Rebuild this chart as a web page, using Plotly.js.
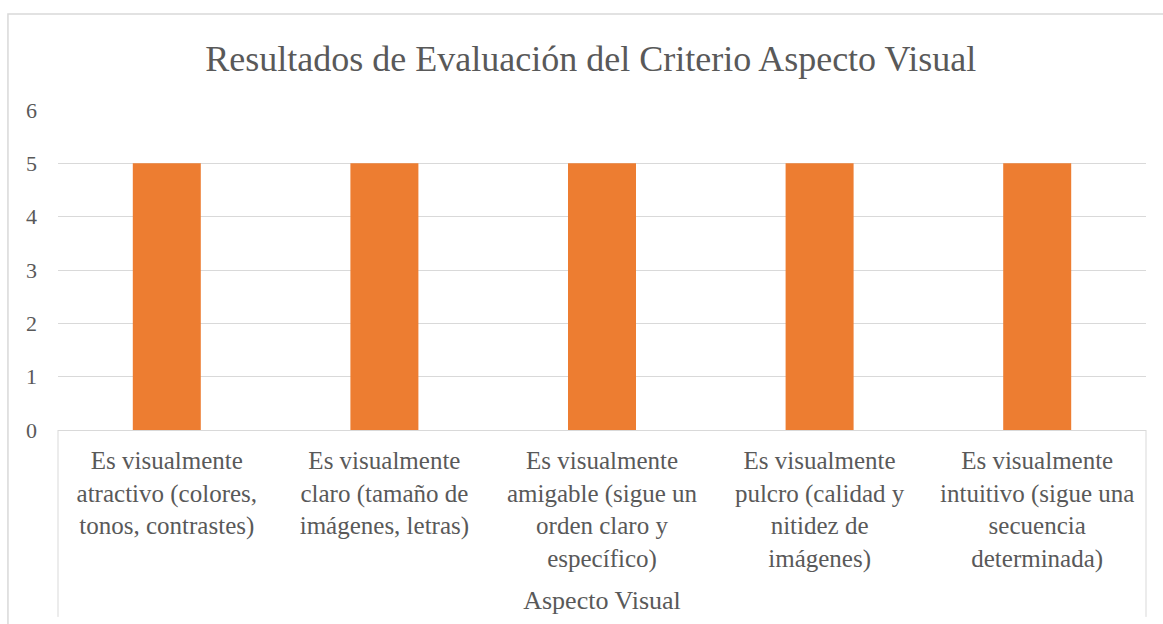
<!DOCTYPE html>
<html>
<head>
<meta charset="utf-8">
<script src="https://cdn.plot.ly/plotly-3.0.1.min.js"></script>
<style>
html,body{margin:0;padding:0;background:#fff;}
</style>
</head>
<body>
<div id="chart"></div>
<script>
const categories = [
  "Es visualmente atractivo (colores, tonos, contrastes)",
  "Es visualmente claro (tamaño de imágenes, letras)",
  "Es visualmente amigable (sigue un orden claro y específico)",
  "Es visualmente pulcro (calidad y nitidez de imágenes)",
  "Es visualmente intuitivo (sigue una secuencia determinada)"
];
const tickLabels = [
  "Es visualmente<br>atractivo (colores,<br>tonos, contrastes)",
  "Es visualmente<br>claro (tamaño de<br>imágenes, letras)",
  "Es visualmente<br>amigable (sigue un<br>orden claro y<br>específico)",
  "Es visualmente<br>pulcro (calidad y<br>nitidez de<br>imágenes)",
  "Es visualmente<br>intuitivo (sigue una<br>secuencia<br>determinada)"
];
const values = [5, 5, 5, 5, 5];
const yTicks = [0, 1, 2, 3, 4, 5, 6];

const FONT = "Times New Roman";
const TXT = "#595959";
const GRID = "#D9D9D9";

const traces = [{
  type: "bar",
  x: categories,
  y: values,
  marker: {color: "#ED7D31"}
}];

const chartLayout = {
  width: 1163,
  height: 624,
  margin: {l: 58, r: 17, t: 110, b: 194, pad: 0},
  paper_bgcolor: "#ffffff",
  plot_bgcolor: "#ffffff",
  font: {family: FONT, color: TXT},
  showlegend: false,
  bargap: 0.6875,
  title: {
    text: "Resultados de Evaluación del Criterio Aspecto Visual",
    font: {family: FONT, size: 36, color: TXT},
    x: 0.508, xanchor: "center",
    y: 0.907, yanchor: "middle"
  },
  xaxis: {
    type: "category",
    tickvals: categories,
    ticktext: tickLabels,
    tickangle: 0,
    tickfont: {family: FONT, size: 25, color: TXT},
    showgrid: false,
    showline: true,
    linecolor: GRID,
    linewidth: 1,
    ticks: "",
    ticklabelstandoff: 8,
    title: {text: "Aspecto Visual", font: {family: FONT, size: 26, color: TXT}, standoff: 19},
    automargin: false,
    fixedrange: true
  },
  yaxis: {
    range: [0, 6],
    tickvals: yTicks,
    tickfont: {family: FONT, size: 22, color: TXT},
    showgrid: true,
    gridcolor: GRID,
    gridwidth: 1,
    zeroline: false,
    showline: false,
    ticks: "",
    ticklabelstandoff: 20,
    automargin: false,
    fixedrange: true
  },
  shapes: [
    {type: "line", xref: "paper", yref: "paper", x0: 0, x1: 0, y0: 0, y1: -0.584,
     line: {color: GRID, width: 1}},
    {type: "line", xref: "paper", yref: "paper", x0: 1, x1: 1, y0: 0, y1: -0.584,
     line: {color: GRID, width: 1}},
    {type: "rect", xref: "paper", yref: "paper", x0: -0.046, x1: 1.2, y0: -0.8, y1: 1.3,
     line: {color: GRID, width: 1.5}, fillcolor: "rgba(0,0,0,0)", layer: "below"}
  ]
};

Plotly.newPlot("chart", traces, chartLayout, {displayModeBar: false, staticPlot: true});
</script>
</body>
</html>
